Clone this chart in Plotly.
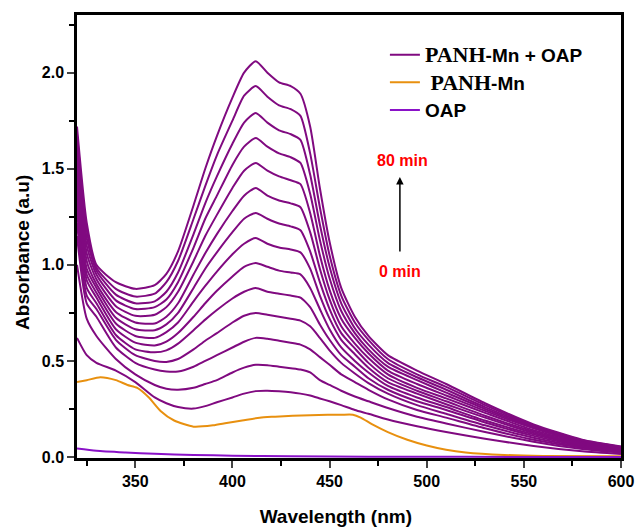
import plotly.graph_objects as go

# Wavelength grid (nm) for the time-series spectra (PANH-Mn + OAP, 0 -> 80 min)
wl = [320, 325, 330, 340, 350, 360, 366, 372, 380, 386, 392, 400, 406, 412, 418, 424, 430, 435,
      440, 445, 450, 456, 463, 470, 480, 495, 510, 530, 555, 580, 600]

t00 = [0.62, 0.53, 0.49, 0.45, 0.39, 0.31, 0.28, 0.26, 0.252, 0.265, 0.285, 0.31, 0.33, 0.343, 0.345, 0.342, 0.337, 0.33,
       0.32, 0.305, 0.29, 0.27, 0.245, 0.225, 0.195, 0.16, 0.13, 0.095, 0.058, 0.03, 0.016]
t01 = [1.00, 0.72, 0.63, 0.51, 0.43, 0.375, 0.355, 0.35, 0.36, 0.38, 0.40, 0.44, 0.465, 0.48, 0.478, 0.47, 0.462, 0.455,
       0.44, 0.40, 0.375, 0.345, 0.315, 0.29, 0.255, 0.21, 0.175, 0.13, 0.08, 0.042, 0.023]
t02 = [1.15, 0.80, 0.73, 0.57, 0.49, 0.455, 0.445, 0.445, 0.47, 0.50, 0.53, 0.57, 0.60, 0.62, 0.615, 0.605, 0.595, 0.585,
       0.56, 0.52, 0.48, 0.43, 0.39, 0.35, 0.30, 0.245, 0.205, 0.15, 0.09, 0.048, 0.027]
t03 = [1.22, 0.84, 0.77, 0.61, 0.53, 0.50, 0.495, 0.51, 0.56, 0.605, 0.645, 0.70, 0.735, 0.75, 0.74, 0.73, 0.72, 0.71,
       0.68, 0.62, 0.555, 0.49, 0.435, 0.385, 0.33, 0.27, 0.225, 0.165, 0.10, 0.053, 0.031]
t04 = [1.28, 0.88, 0.80, 0.635, 0.56, 0.545, 0.555, 0.59, 0.66, 0.715, 0.765, 0.825, 0.86, 0.88, 0.86, 0.85, 0.84, 0.83,
       0.78, 0.69, 0.61, 0.53, 0.47, 0.41, 0.35, 0.29, 0.245, 0.18, 0.11, 0.058, 0.034]
t05 = [1.34, 0.92, 0.83, 0.665, 0.595, 0.58, 0.60, 0.645, 0.73, 0.80, 0.865, 0.94, 0.99, 1.01, 0.99, 0.97, 0.96, 0.95,
       0.88, 0.77, 0.665, 0.57, 0.50, 0.44, 0.37, 0.31, 0.26, 0.19, 0.118, 0.062, 0.037]
t06 = [1.40, 0.95, 0.855, 0.695, 0.63, 0.62, 0.65, 0.70, 0.81, 0.89, 0.965, 1.055, 1.11, 1.14, 1.11, 1.09, 1.08, 1.065,
       0.98, 0.84, 0.72, 0.61, 0.535, 0.465, 0.39, 0.33, 0.275, 0.205, 0.125, 0.066, 0.04]
t07 = [1.45, 0.98, 0.88, 0.725, 0.665, 0.66, 0.69, 0.75, 0.88, 0.98, 1.065, 1.17, 1.24, 1.27, 1.24, 1.215, 1.20, 1.18,
       1.07, 0.91, 0.77, 0.645, 0.565, 0.49, 0.41, 0.345, 0.29, 0.215, 0.133, 0.07, 0.042]
t08 = [1.50, 1.02, 0.90, 0.755, 0.70, 0.695, 0.73, 0.80, 0.95, 1.06, 1.16, 1.28, 1.36, 1.40, 1.36, 1.335, 1.32, 1.30,
       1.17, 0.98, 0.82, 0.68, 0.59, 0.515, 0.43, 0.36, 0.305, 0.23, 0.14, 0.074, 0.045]
t09 = [1.55, 1.06, 0.925, 0.785, 0.735, 0.74, 0.78, 0.86, 1.02, 1.15, 1.26, 1.40, 1.49, 1.53, 1.49, 1.46, 1.44, 1.42,
       1.27, 1.05, 0.87, 0.72, 0.62, 0.54, 0.45, 0.38, 0.32, 0.24, 0.15, 0.078, 0.047]
t10 = [1.60, 1.10, 0.95, 0.815, 0.77, 0.78, 0.82, 0.91, 1.09, 1.24, 1.36, 1.52, 1.615, 1.66, 1.615, 1.58, 1.56, 1.53,
       1.37, 1.13, 0.93, 0.76, 0.645, 0.56, 0.47, 0.40, 0.335, 0.25, 0.155, 0.081, 0.049]
t11 = [1.64, 1.14, 0.97, 0.845, 0.80, 0.81, 0.86, 0.96, 1.16, 1.32, 1.46, 1.63, 1.74, 1.79, 1.74, 1.70, 1.68, 1.65,
       1.47, 1.21, 0.99, 0.80, 0.67, 0.585, 0.49, 0.415, 0.35, 0.26, 0.16, 0.084, 0.051]
t12 = [1.68, 1.18, 0.985, 0.875, 0.835, 0.85, 0.91, 1.02, 1.24, 1.41, 1.57, 1.75, 1.88, 1.93, 1.875, 1.83, 1.81, 1.775,
       1.58, 1.30, 1.05, 0.84, 0.70, 0.61, 0.51, 0.43, 0.365, 0.27, 0.165, 0.087, 0.053]
t13 = [1.72, 1.22, 1.00, 0.91, 0.875, 0.894, 0.953, 1.07, 1.31, 1.50, 1.67, 1.87, 2.00, 2.06, 2.00, 1.95, 1.93, 1.89,
       1.72, 1.40, 1.12, 0.88, 0.73, 0.63, 0.53, 0.45, 0.38, 0.28, 0.17, 0.09, 0.055]
time_series = [t00, t01, t02, t03, t04, t05, t06, t07, t08, t09, t10, t11, t12, t13]

# PANH-Mn alone
wl_mn = [320, 325, 332, 340, 346, 351, 357, 363, 370, 380, 390, 397, 405, 414, 422,
         431, 440, 449, 456, 462, 466, 472, 480, 490, 500, 510, 520, 540, 560, 600]
abs_mn = [0.39, 0.40, 0.415, 0.40, 0.375, 0.36, 0.31, 0.24, 0.19, 0.158, 0.165, 0.177, 0.19,
          0.205, 0.21, 0.215, 0.218, 0.22, 0.22, 0.22, 0.205, 0.17, 0.13, 0.09, 0.06, 0.038,
          0.024, 0.011, 0.006, 0.004]

# OAP alone
wl_oap = [320, 330, 345, 360, 380, 400, 430, 470, 520, 600]
abs_oap = [0.045, 0.033, 0.024, 0.017, 0.011, 0.007, 0.004, 0.002, 0.001, 0.0]

SERIF = "<span style='font-family:Liberation Serif;font-size:22px'>"
legend_names = ["<b>" + SERIF + "PANH</span>-Mn + OAP</b>",
                "<b>" + SERIF + " PANH</span>-Mn</b>",
                "<b>OAP</b>"]

PURPLE = "#800a80"
ORANGE = "#e8900f"
VIOLET = "#8a12c8"

fig = go.Figure()
for i, ys in enumerate(time_series):
    fig.add_trace(go.Scatter(x=wl, y=ys, mode="lines",
                             line=dict(color=PURPLE, width=2, shape="spline", smoothing=0.6),
                             name=legend_names[0], showlegend=(i == 0), legendrank=1))
fig.add_trace(go.Scatter(x=wl_mn, y=abs_mn, mode="lines",
                         line=dict(color=ORANGE, width=2, shape="spline", smoothing=0.6),
                         name=legend_names[1], legendrank=2))
fig.add_trace(go.Scatter(x=wl_oap, y=abs_oap, mode="lines",
                         line=dict(color=VIOLET, width=2, shape="spline", smoothing=0.6),
                         name=legend_names[2], legendrank=3))

axis_font = dict(family="Liberation Sans", size=16, color="black")
NB = "&nbsp;"
fig.update_layout(
    width=636, height=527,
    margin=dict(l=77, r=15, t=15, b=69, autoexpand=False),
    plot_bgcolor="white", paper_bgcolor="white",
    font=dict(family="Liberation Sans", color="black"),
    xaxis=dict(range=[320, 600], tick0=350, dtick=50, ticks="outside", ticklen=7, tickwidth=2,
               showline=True, linewidth=2.5, linecolor="black", mirror=True, showgrid=False, zeroline=False,
               tickfont=axis_font, tickprefix="<b>", ticksuffix="</b>", ticklabelstandoff=0, automargin=False,
               minor=dict(tick0=325, dtick=50, ticks="outside", ticklen=5, tickwidth=2, tickcolor="black"),
               title=dict(text="<b>Wavelength (nm)" + NB * 5 + "</b>",
                          font=dict(family="Liberation Sans", size=19), standoff=22)),
    yaxis=dict(range=[-0.005, 2.3], tick0=0, dtick=0.5, tickformat=".1f", ticks="outside", ticklen=7, tickwidth=2,
               showline=True, linewidth=2.5, linecolor="black", mirror=True, showgrid=False, zeroline=False,
               tickfont=axis_font, tickprefix="<b>", ticksuffix="</b>", automargin=False,
               minor=dict(tick0=0.25, dtick=0.5, ticks="outside", ticklen=5, tickwidth=2, tickcolor="black"),
               title=dict(text="<b>Absorbance (a.u)" + NB * 6 + "</b>",
                          font=dict(family="Liberation Sans", size=19), standoff=8)),
    legend=dict(x=0.566, y=0.953, xanchor="left", yanchor="top", bgcolor="rgba(0,0,0,0)",
                font=dict(family="Liberation Sans", size=19, color="black"), tracegroupgap=0),
    showlegend=True,
)

fig.add_annotation(x=486.2, y=1.457, ax=0, ay=76, xref="x", yref="y", text="", showarrow=True,
                   arrowhead=2, arrowsize=1, arrowwidth=1.5, arrowcolor="black")
fig.add_annotation(x=487.7, y=1.545, xref="x", yref="y", text="<b>80 min</b>", showarrow=False,
                   font=dict(family="Liberation Sans", size=16, color="#ff0000"))
fig.add_annotation(x=486.5, y=0.963, xref="x", yref="y", text="<b>0 min</b>", showarrow=False,
                   font=dict(family="Liberation Sans", size=16, color="#ff0000"))

fig.write_html("out.html")
